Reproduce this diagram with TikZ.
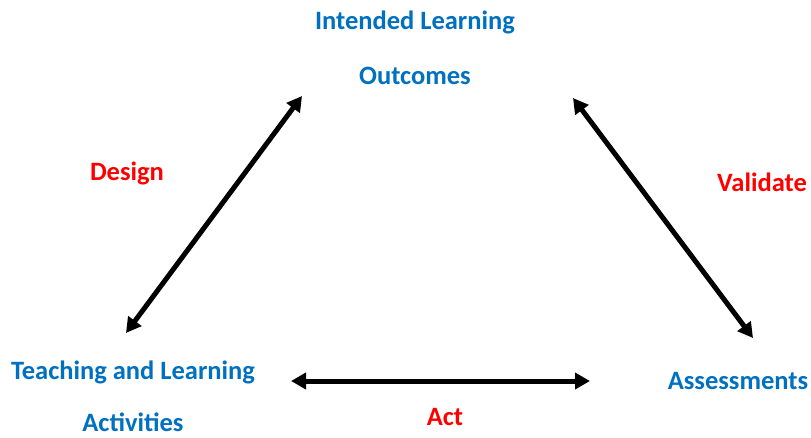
\documentclass[tikz,border=0pt]{standalone}
\usepackage{fontspec}
\setmainfont{Carlito}
\usetikzlibrary{arrows.meta}
\definecolor{tblue}{HTML}{0070C0}
\definecolor{tred}{HTML}{FF0000}
\begin{document}
\begin{tikzpicture}[x=1pt,y=-1pt,
  concept/.style={font=\fontsize{26.5}{30}\selectfont\bfseries, text=tblue, anchor=base, inner sep=0pt},
  verb/.style={font=\fontsize{26.5}{30}\selectfont\bfseries, text=tred, anchor=base, inner sep=0pt},
  link/.style={line width=5pt, {Triangle[length=15pt,width=16pt]}-{Triangle[length=15pt,width=16pt]}}]
\useasboundingbox (0,0) rectangle (811,437);
\node[concept] (ilo1) at (415,29) {Intended Learning};
\node[concept] (ilo2) at (415,84) {Outcomes};
\node[concept] (tla1) at (133,379) {Teaching and Learning};
\node[concept] (tla2) at (133,431) {Activities};
\node[concept] (as) at (738,389) {Assessments};
\node[verb] (design) at (127,180) {Design};
\node[verb] (validate) at (762,191) {Validate};
\node[verb] (act) at (445,425) {Act};
\coordinate (d1) at (126,333);
\coordinate (d2) at (302,96);
\coordinate (v1) at (573,98);
\coordinate (v2) at (753,338);
\coordinate (a1) at (291,381);
\coordinate (a2) at (590,381);
\draw[link] (d1) -- (d2);
\draw[link] (v1) -- (v2);
\draw[link] (a1) -- (a2);
\end{tikzpicture}
\end{document}
